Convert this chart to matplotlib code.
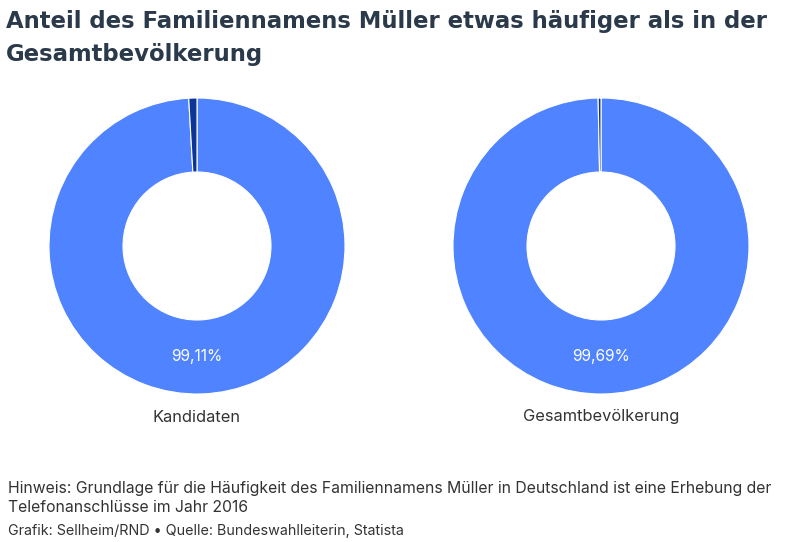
import matplotlib
matplotlib.use("Agg")
from matplotlib import pyplot as plt

# data
groups = ['Kandidaten', 'Gesamtbevölkerung']
share_mueller = [0.89, 0.31]
share_rest = [99.11, 99.69]
labels_rest = ['99,11%', '99,69%']

blue = '#5083ff'
dark = '#0b3597'
text_col = '#2b3a4a'

W, H = 800, 542
fig = plt.figure(figsize=(W / 100, H / 100), dpi=100)

fig.text(6 / W, 1 - 28 / H, 'Anteil des Familiennamens Müller etwas häufiger als in der',
         fontsize=16.4, fontweight='bold', color=text_col, family='DejaVu Sans', va='baseline')
fig.text(6 / W, 1 - 61 / H, 'Gesamtbevölkerung',
         fontsize=16.4, fontweight='bold', color=text_col, family='DejaVu Sans', va='baseline')

centers = [197, 601]
r = 148
for i, cx in enumerate(centers):
    ax = fig.add_axes([(cx - r) / W, (H - 246 - r) / H, 2 * r / W, 2 * r / H])
    ax.pie([share_rest[i], share_mueller[i]], colors=[blue, dark], startangle=90,
           counterclock=False, radius=1,
           wedgeprops=dict(width=0.5, edgecolor='white', linewidth=0.8))
    ax.set_xlim(-1, 1)
    ax.set_ylim(-1, 1)
    ax.set_aspect('equal')
    ax.axis('off')
    ax.text(0, -0.75, labels_rest[i], ha='center', va='center', color='white',
            fontsize=11.2, family='Inter')
    fig.text(cx / W, 1 - 417 / H, groups[i], ha='center', va='center',
             fontsize=11.8, color='#333333', family='Inter')

fig.text(8 / W, 1 - 488 / H,
         'Hinweis: Grundlage für die Häufigkeit des Familiennamens Müller in Deutschland ist eine Erhebung der',
         fontsize=11.35, color='#333333', family='Inter', va='center')
fig.text(8 / W, 1 - 508 / H, 'Telefonanschlüsse im Jahr 2016',
         fontsize=11.35, color='#333333', family='Inter', va='center')
fig.text(8 / W, 1 - 531 / H, 'Grafik: Sellheim/RND • Quelle: Bundeswahlleiterin, Statista',
         fontsize=10.3, color='#333333', family='Inter', va='center')

fig.savefig('out.png', dpi=100)
